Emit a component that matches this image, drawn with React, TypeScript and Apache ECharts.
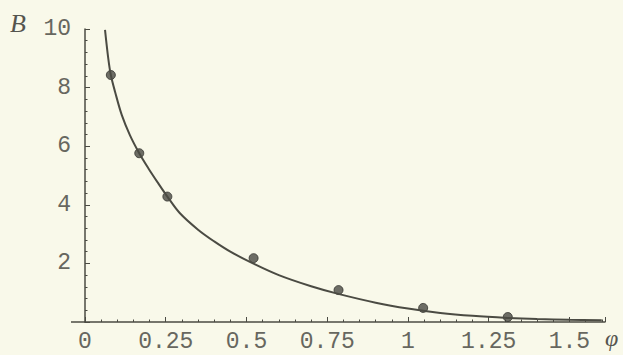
import React, { useEffect, useRef } from "react";
import * as echarts from "echarts";

const pointPhi = [0.08, 0.168, 0.255, 0.522, 0.785, 1.047, 1.309];
const pointB = [8.43, 5.76, 4.28, 2.18, 1.09, 0.48, 0.17];

const curvePhi = [0.062, 0.072, 0.08, 0.093, 0.114, 0.139, 0.168, 0.196, 0.227, 0.255, 0.294, 0.35, 0.4, 0.45, 0.52, 0.6, 0.7, 0.784, 0.9, 1.0, 1.1, 1.2, 1.308, 1.4, 1.5, 1.6];
const curveB = [9.97, 9.0, 8.43, 7.86, 7.06, 6.38, 5.76, 5.25, 4.73, 4.28, 3.71, 3.15, 2.75, 2.4, 2.0, 1.6, 1.22, 0.96, 0.66, 0.46, 0.31, 0.21, 0.14, 0.1, 0.075, 0.06];

const xTicks = [0, 0.25, 0.5, 0.75, 1, 1.25, 1.5];

export default function App() {
  const ref = useRef<HTMLDivElement>(null);
  useEffect(() => {
    const chart = echarts.init(ref.current!, undefined, { renderer: "svg" });
    const ink = "#4b4b43";
    const textColor = "#67675f";
    chart.setOption({
      animation: false,
      backgroundColor: "#f9f9ea",
      grid: { left: 85, right: 18, top: 29, bottom: 33, containLabel: false },
      xAxis: {
        type: "value",
        min: 0,
        max: 1.61,
        interval: 0.25,
        splitLine: { show: false },
        axisLine: { show: true, onZero: true, lineStyle: { color: ink, width: 1.5 } },
        axisTick: { show: true, inside: true, length: 5, lineStyle: { color: ink } },
        minorTick: { show: true, splitNumber: 5, length: 2.5, lineStyle: { color: ink } },
        axisLabel: {
          color: textColor,
          fontFamily: "Liberation Mono",
          fontSize: 23,
          margin: 8,
          showMaxLabel: false,
          formatter: (v: number) => (xTicks.indexOf(Math.round(v * 100) / 100) >= 0 ? String(v) : ""),
        },
      },
      yAxis: {
        type: "value",
        min: 0,
        max: 10,
        interval: 2,
        splitLine: { show: false },
        axisLine: { show: true, onZero: true, lineStyle: { color: ink, width: 1.5 } },
        axisTick: { show: true, inside: true, length: 5, lineStyle: { color: ink } },
        minorTick: { show: true, splitNumber: 5, length: 2.5, lineStyle: { color: ink } },
        axisLabel: {
          color: textColor,
          fontFamily: "Liberation Mono",
          fontSize: 23,
          margin: 14,
          showMinLabel: false,
        },
      },
      graphic: [
        { type: "line", shape: { x1: 71, y1: 322, x2: 85, y2: 322 }, style: { stroke: ink, lineWidth: 1.5 } },
        { type: "text", left: 10, top: 10, style: { text: "B", font: "italic 26px 'Liberation Serif'", fill: "#55554f" } },
        { type: "text", left: 605, top: 326, style: { text: "φ", font: "italic 24px 'Liberation Serif'", fill: "#55554f" } },
      ],
      series: [
        {
          type: "line",
          data: curvePhi.map((x, i) => [x, curveB[i]]),
          smooth: 0.35,
          showSymbol: false,
          lineStyle: { color: ink, width: 2 },
          clip: true,
        },
        {
          type: "scatter",
          data: pointPhi.map((x, i) => [x, pointB[i]]),
          symbolSize: 9,
          itemStyle: { color: "#4a4a44", borderColor: "#33332e", borderWidth: 1 },
        },
      ],
    });
    return () => chart.dispose();
  }, []);
  return <div ref={ref} style={{ position: "absolute", left: 0, top: 0, width: 623, height: 355 }} />;
}
